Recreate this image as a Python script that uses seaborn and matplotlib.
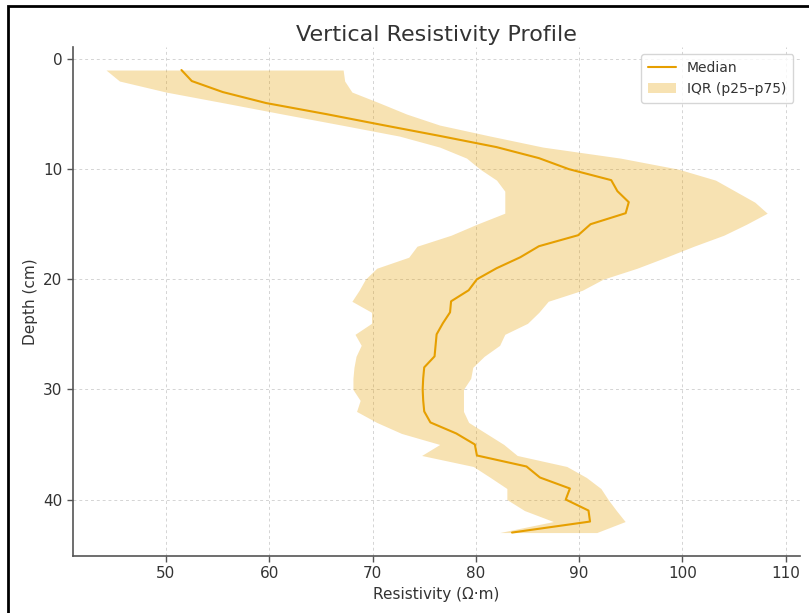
import numpy as np
import pandas as pd
import matplotlib
matplotlib.use("Agg")
import matplotlib.pyplot as plt
from matplotlib.patches import Rectangle
import seaborn as sns

# Depth samples (cm)
depth = list(range(1, 44))

# Median resistivity per depth (Ohm·m)
median = [51.5, 52.5, 55.5, 59.7, 65.5, 71.0, 76.6, 82.0, 86.1, 89.0,
          93.1, 93.7, 94.8, 94.5, 91.1, 89.9, 86.1, 84.3, 82.0, 80.1,
          79.3, 77.6, 77.5, 76.8, 76.2, 76.1, 76.0, 75.0, 74.9, 74.85,
          74.9, 75.0, 75.6, 78.1, 79.9, 80.1, 84.9, 86.2, 89.1, 88.7,
          90.9, 91.05, 83.5]

# 25th percentile
p25 = [44.2, 45.5, 50.0, 55.7, 61.3, 67.0, 72.6, 76.5, 79.1, 80.4,
       82.0, 82.8, 82.8, 82.8, 80.1, 77.6, 74.3, 73.5, 70.4, 69.3,
       68.7, 68.0, 69.9, 69.9, 68.3, 68.9, 68.4, 68.2, 68.1, 68.1,
       68.8, 68.45, 70.4, 72.8, 76.5, 74.75, 79.75, 81.4, 83.0, 83.0,
       84.7, 87.5, 82.3]

# 75th percentile
p75 = [67.15, 67.3, 68.0, 70.7, 73.3, 76.5, 81.4, 86.5, 94.0, 99.6,
       103.2, 105.1, 107.0, 108.2, 106.2, 104.0, 101.1, 98.4, 95.6, 92.3,
       90.3, 87.0, 86.1, 85.0, 82.8, 82.3, 80.8, 79.7, 79.5, 78.8,
       78.8, 78.8, 79.3, 81.0, 82.7, 84.0, 88.8, 90.7, 92.1, 92.8,
       93.6, 94.45, 91.7]

df = pd.DataFrame({"depth": depth, "median": median, "p25": p25, "p75": p75})

sns.set_style("ticks")
plt.rcParams["font.family"] = ["DejaVu Sans"]

color = "#E69F00"
fig = plt.figure(figsize=(8.09, 6.13), dpi=100)
ax = fig.add_axes([0.0902, 0.0935, 0.8990, 0.8300])

sns.lineplot(data=df, x="median", y="depth", orient="y", sort=False,
             color=color, lw=1.5, label="Median", ax=ax)
ax.fill_betweenx(df["depth"], df["p25"], df["p75"], color=color,
                 alpha=0.3, linewidth=0, label="IQR (p25–p75)")

ax.invert_yaxis()
ax.set_xticks([50, 60, 70, 80, 90, 100, 110])
ax.set_yticks([0, 10, 20, 30, 40])
ax.grid(True, linestyle=(0, (3, 3)), color="#d4d4d4", linewidth=0.7)
ax.set_axisbelow(True)

for side in ("top", "right"):
    ax.spines[side].set_visible(False)
for side in ("left", "bottom"):
    ax.spines[side].set_color("#555555")
    ax.spines[side].set_linewidth(1.2)
ax.tick_params(axis="both", colors="#555555", labelcolor="#333333",
               labelsize=11, length=4, width=1)

ax.set_xlabel("Resistivity (Ω·m)", fontsize=11, color="#333333")
ax.set_ylabel("Depth (cm)", fontsize=11, color="#333333")
ax.set_title("Vertical Resistivity Profile", fontsize=16, color="#333333", pad=4)

leg = ax.legend(loc="upper right", fontsize=10, frameon=True, fancybox=True,
                borderpad=0.5, handlelength=2.0)
leg.get_frame().set_edgecolor("#cccccc")
for t in leg.get_texts():
    t.set_color("#333333")

# outer frame around the figure
fig.patches.append(Rectangle((8 / 809, -0.05), 1.2, 1.05 - 6 / 613,
                             transform=fig.transFigure, fill=False,
                             edgecolor="black", linewidth=2, clip_on=False))

fig.savefig("out.png", dpi=100)
